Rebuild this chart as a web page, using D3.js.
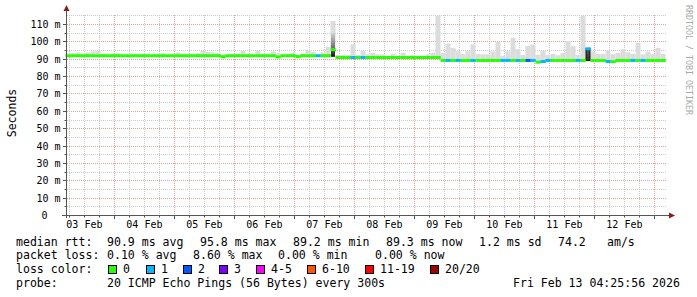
<!DOCTYPE html>
<html><head><meta charset="utf-8">
<script src="https://cdn.jsdelivr.net/npm/d3@7/dist/d3.min.js"></script>
<style>body{margin:0;background:#fff}svg{display:block}text{font-family:"DejaVu Sans Mono",monospace}</style>
</head><body><svg id="c" width="697" height="297"></svg>
<script>
// ---------- data ----------
const startTime = Date.UTC(2026, 1, 3, 4, 25, 56);
const endTime = Date.UTC(2026, 1, 13, 4, 25, 56);
const stepHours = 2;
const yTicks = [0, 10, 20, 30, 40, 50, 60, 70, 80, 90, 100, 110];
const yTickLabels = ["0", "10 m", "20 m", "30 m", "40 m", "50 m", "60 m", "70 m", "80 m", "90 m", "100 m", "110 m"];
const dayLabels = ["03 Feb", "04 Feb", "05 Feb", "06 Feb", "07 Feb", "08 Feb", "09 Feb", "10 Feb", "11 Feb", "12 Feb"];

// median rtt per 2-hour step (ms)
const medianMs = [
  92.0, 92.0, 92.0, 92.0, 92.0, 92.0, 92.0, 92.0, 92.0, 92.0,
  92.0, 92.0, 92.0, 92.0, 92.0, 92.0, 92.0, 92.0, 92.0, 92.0,
  92.0, 92.0, 92.0, 92.0, 92.0, 92.0, 92.0, 92.0, 92.0, 92.0,
  92.0, 91.4, 92.0, 92.0, 92.0, 92.0, 92.0, 92.0, 92.0, 92.0,
  92.0, 92.0, 91.3, 92.0, 92.0, 92.0, 91.5, 92.0, 92.0, 92.0,
  92.0, 92.0, 92.0, 95.5, 91.0, 91.0, 91.0, 91.0, 91.0, 91.0,
  91.0, 91.0, 91.0, 91.0, 91.0, 91.0, 91.0, 91.0, 91.0, 91.0,
  91.0, 91.0, 91.0, 91.0, 91.0, 89.3, 89.3, 89.3, 89.3, 89.3,
  89.3, 89.3, 89.3, 89.3, 89.3, 89.3, 89.3, 89.3, 89.3, 89.3,
  89.3, 89.3, 89.3, 89.3, 88.3, 88.7, 89.3, 89.3, 89.3, 89.3,
  89.3, 89.3, 89.3, 89.3, 96.0, 89.3, 89.3, 89.3, 88.7, 88.6,
  89.3, 89.3, 89.3, 89.3, 89.3, 89.3, 89.3, 89.3, 89.3, 89.3
];
// lost pings (of 20) per step
const lossCount = [
  0,0,0,0,0,0,0,0,0,0, 0,0,0,0,0,0,0,0,0,0,
  0,0,0,0,0,0,0,0,0,0, 0,0,0,0,0,0,0,0,0,0,
  0,0,0,0,0,0,0,0,0,0, 1,0,0,0,0,0,0,1,0,1,
  0,0,0,0,0,0,0,0,0,0, 0,0,0,0,0,0,1,0,1,0,
  0,1,0,0,0,0,0,1,1,0, 1,0,2,1,0,1,1,0,0,0,
  0,0,1,0,1,0,0,0,1,0, 0,0,0,1,0,1,0,0,0,0
];
// highest ping of the step (top of the smoke), ms
const smokeMaxMs = [
  92.5, 93.5, 93.9, 92.8, 93.9, 94.4, 94.8, 92.8, 92.5, 93.3,
  93.5, 92.5, 92.5, 92.8, 92.5, 93.3, 92.5, 92.5, 92.8, 93.5,
  92.5, 92.8, 93.9, 93.3, 92.5, 92.8, 93.5, 94.8, 94.3, 93.9,
  93.7, 92.8, 92.5, 92.5, 93.0, 94.8, 92.8, 92.5, 94.8, 93.0,
  92.5, 94.4, 93.5, 92.5, 92.8, 93.9, 92.8, 93.3, 95.3, 94.2,
  92.8, 93.9, 97.0, 112.0, 92.5, 92.5, 92.5, 98.7, 92.5, 94.7,
  92.8, 93.7, 92.8, 92.8, 92.0, 93.2, 92.0, 93.7, 92.0, 92.5,
  92.0, 92.0, 92.8, 93.7, 115.0, 93.7, 99.0, 96.5, 94.5, 93.0,
  94.6, 98.5, 93.0, 92.8, 92.8, 94.5, 99.9, 92.0, 94.5, 102.4,
  95.8, 92.5, 97.6, 98.5, 92.5, 94.9, 92.5, 93.0, 92.3, 93.5,
  100.5, 97.6, 92.5, 115.0, 96.5, 94.4, 93.0, 93.0, 95.0, 93.0,
  93.7, 95.8, 94.0, 93.0, 99.5, 92.8, 94.4, 93.0, 96.6, 93.0
];
// steps with a dense (dark) smoke band
const denseSlots = [53, 104];
const denseLowMs = [91.4, 89.2];
const denseHighMs = [105.0, 96.0];

const lossLegend = ["0", "1", "2", "3", "4-5", "6-10", "11-19", "20/20"];
const lossColors = ["#26ff00", "#00b8ff", "#0059ff", "#7e00ff", "#ff00ff", "#ff5500", "#ff0000", "#a00000"];

const statsRow1 = ["median rtt:", "90.9 ms avg", "95.8 ms max", "89.2 ms min", "89.3 ms now", "1.2 ms sd", "74.2", "am/s"];
const statsRow2 = ["packet loss:", "0.10 % avg", "8.60 % max", "0.00 % min", "0.00 % now"];
const probeText = ["probe:", "20 ICMP Echo Pings (56 Bytes) every 300s", "Fri Feb 13 04:25:56 2026"];

// ---------- layout ----------
const svg = d3.select("#c");
const plotLeft = 65.5, plotRight = 665.5, plotTop = 15;
const x = d3.scaleUtc().domain([startTime, endTime]).range([plotLeft, plotRight]);
const y = d3.scaleLinear().domain([0, 110]).range([215.5, 24.5]);
const px = v => Math.floor(v) + 0.5;

const majorCol = "#e3a0a0", minorCol = "#cacaca";
const g = svg.append("g");

const sixH = d3.utcHour.every(6).range(new Date(startTime), new Date(endTime));
const days = d3.utcDay.range(new Date(startTime), new Date(endTime));
const minorY = d3.range(5, 116, 10);

g.selectAll(".vmin").data(sixH.filter(d => d.getUTCHours() !== 0)).join("line")
  .attr("x1", d => px(x(d))).attr("x2", d => px(x(d))).attr("y1", plotTop).attr("y2", 215)
  .attr("stroke", minorCol).attr("stroke-dasharray", "1,1");
g.selectAll(".hmin").data(minorY).join("line")
  .attr("x1", 67).attr("x2", 666).attr("y1", d => px(y(d))).attr("y2", d => px(y(d)))
  .attr("stroke", minorCol).attr("stroke-dasharray", "1,1");
g.selectAll(".vmaj").data(days).join("line")
  .attr("x1", d => px(x(d))).attr("x2", d => px(x(d))).attr("y1", plotTop).attr("y2", 215)
  .attr("stroke", majorCol).attr("stroke-dasharray", "1,1");
g.selectAll(".hmaj").data(yTicks.filter(d => d > 0)).join("line")
  .attr("x1", 67).attr("x2", 666).attr("y1", d => px(y(d))).attr("y2", d => px(y(d)))
  .attr("stroke", majorCol).attr("stroke-dasharray", "1,1");

// ---------- smoke & median ----------
const slots = d3.range(medianMs.length);
const t0 = i => startTime + i * stepHours * 3600e3;
const sx = i => x(t0(i));
const sw = i => x(t0(i + 1)) - x(t0(i));

svg.append("g").selectAll("rect").data(slots.filter(i => smokeMaxMs[i] > medianMs[i])).join("rect")
  .attr("x", sx).attr("width", sw)
  .attr("y", i => y(smokeMaxMs[i]))
  .attr("height", i => y(medianMs[i]) - y(smokeMaxMs[i]))
  .attr("fill", "#dcdcdc");

const defs = svg.append("defs");
const grad = defs.append("linearGradient").attr("id", "dg").attr("x1", 0).attr("x2", 0).attr("y1", 0).attr("y2", 1);
grad.append("stop").attr("offset", "0%").attr("stop-color", "#d0d0d0");
grad.append("stop").attr("offset", "55%").attr("stop-color", "#7a7a7a");
grad.append("stop").attr("offset", "100%").attr("stop-color", "#151515");
const grad2 = defs.append("linearGradient").attr("id", "dg2").attr("x1", 0).attr("x2", 0).attr("y1", 0).attr("y2", 1);
grad2.append("stop").attr("offset", "0%").attr("stop-color", "#555");
grad2.append("stop").attr("offset", "100%").attr("stop-color", "#333");

svg.append("g").selectAll("rect").data(d3.range(denseSlots.length)).join("rect")
  .attr("x", j => sx(denseSlots[j]) + 0.5).attr("width", j => sw(denseSlots[j]) - 1)
  .attr("y", j => y(denseHighMs[j]))
  .attr("height", j => y(denseLowMs[j]) - y(denseHighMs[j]))
  .attr("fill", j => j === 0 ? "url(#dg)" : "url(#dg2)")
  .attr("stroke", j => j === 0 ? "none" : "#111").attr("stroke-width", 1);

const lossIndex = c => c === 0 ? 0 : c === 1 ? 1 : c === 2 ? 2 : c === 3 ? 3 : c <= 5 ? 4 : c <= 10 ? 5 : c <= 19 ? 6 : 7;
svg.append("g").selectAll("rect").data(slots).join("rect")
  .attr("x", sx).attr("width", i => sw(i) + 0.3)
  .attr("y", i => y(medianMs[i]) - 1.5).attr("height", 3)
  .attr("fill", i => lossColors[lossIndex(lossCount[i])]);

// ---------- axes ----------
const axisCol = "#555", arrowCol = "#8e1a1a";
svg.append("line").attr("x1", 66.5).attr("x2", 66.5).attr("y1", 10).attr("y2", 218).attr("stroke", axisCol);
svg.append("line").attr("x1", 62).attr("x2", 670).attr("y1", 215.5).attr("y2", 215.5).attr("stroke", axisCol);
svg.append("path").attr("d", "M66.5,5 L63.5,11 L69.5,11 Z").attr("fill", arrowCol);
svg.append("path").attr("d", "M675,215.5 L669,212.5 L669,218.5 Z").attr("fill", arrowCol);

svg.append("g").selectAll("line").data(yTicks).join("line")
  .attr("x1", 63).attr("x2", 66).attr("y1", d => px(y(d))).attr("y2", d => px(y(d))).attr("stroke", axisCol);
svg.append("g").selectAll("line").data(minorY.filter(d => d < 115)).join("line")
  .attr("x1", 64.5).attr("x2", 66).attr("y1", d => px(y(d))).attr("y2", d => px(y(d))).attr("stroke", axisCol);
svg.append("g").selectAll("line").data(days).join("line")
  .attr("x1", d => px(x(d))).attr("x2", d => px(x(d))).attr("y1", 216).attr("y2", 219).attr("stroke", axisCol);
svg.append("g").selectAll("line").data(sixH.filter(d => d.getUTCHours() !== 0)).join("line")
  .attr("x1", d => px(x(d))).attr("x2", d => px(x(d))).attr("y1", 216).attr("y2", 217.5).attr("stroke", axisCol);

svg.append("g").selectAll("text").data(yTicks).join("text")
  .attr("x", d => d === 0 ? 47.5 : 60.5).attr("y", d => px(y(d)) + 3.5)
  .attr("text-anchor", "end").attr("font-size", "10px").attr("fill", "#000")
  .text((d, i) => yTickLabels[i]);

svg.append("g").selectAll("text").data(dayLabels).join("text")
  .attr("x", (d, i) => x(Date.UTC(2026, 1, 3 + i, 12))).attr("y", 228)
  .attr("text-anchor", "middle").attr("font-size", "10px").attr("fill", "#000")
  .text(d => d);

svg.append("text").attr("transform", "translate(15.5,113) rotate(-90)")
  .attr("text-anchor", "middle").attr("font-size", "11.5px").attr("fill", "#000").text("Seconds");

svg.append("text").attr("transform", "translate(685.5,5) rotate(90)")
  .attr("font-size", "8.3px").attr("fill", "#a9a9a9").text("RRDTOOL / TOBI OETIKER");

// ---------- legend ----------
const rowY = [245.7, 259.3, 273.0, 286.7];
const fs = "11.55px";
const row1X = [16, 107, 200, 293, 386, 479, 558, 607];
svg.append("g").selectAll("text").data(statsRow1).join("text")
  .attr("x", (d, i) => row1X[i]).attr("y", rowY[0]).attr("font-size", fs).text(d => d);
const row2X = [16, 107, 193, 278, 375];
svg.append("g").selectAll("text").data(statsRow2).join("text")
  .attr("x", (d, i) => row2X[i]).attr("y", rowY[1]).attr("font-size", fs).text(d => d);
svg.append("text").attr("x", 16).attr("y", rowY[2]).attr("font-size", fs).text("loss color:");
const boxX = [108, 146, 183, 219, 256, 307, 365, 430];
const lg = svg.append("g").selectAll("g").data(lossLegend).join("g");
lg.append("rect").attr("x", (d, i) => boxX[i] + 0.5).attr("y", 265.5).attr("width", 8).attr("height", 8)
  .attr("fill", (d, i) => lossColors[i]).attr("stroke", "#000");
lg.append("text").attr("x", (d, i) => boxX[i] + 15).attr("y", rowY[2]).attr("font-size", fs).text(d => d);
const row4X = [16, 107, 513];
svg.append("g").selectAll("text").data(probeText).join("text")
  .attr("x", (d, i) => row4X[i]).attr("y", rowY[3]).attr("font-size", fs).text(d => d);
</script></body></html>
